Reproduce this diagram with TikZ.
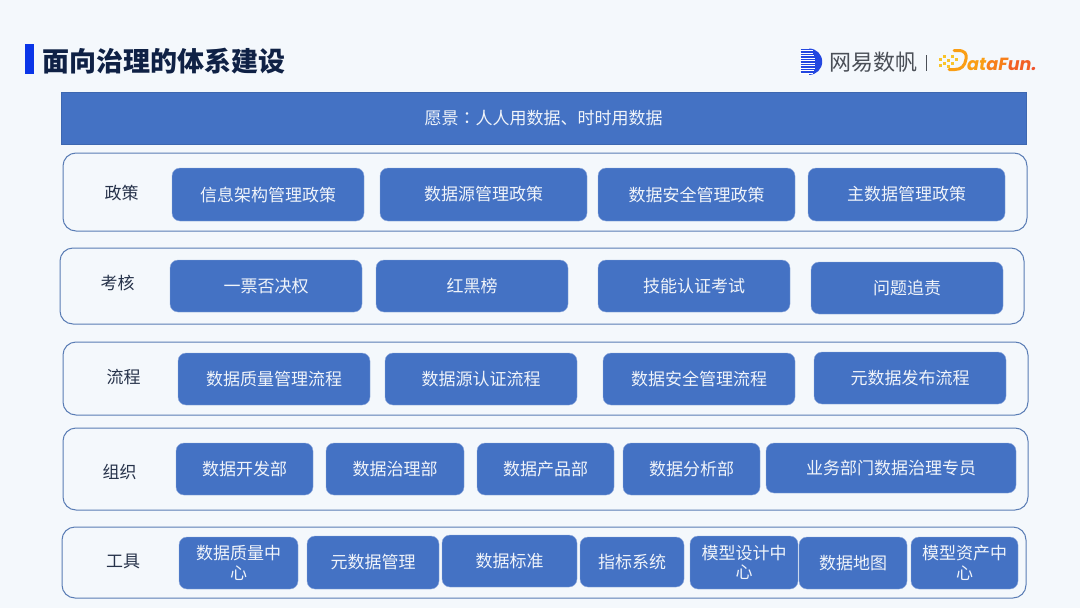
\documentclass[tikz,border=0pt]{standalone}
\usepackage{fontspec}
\setmainfont{Noto Sans CJK SC}
\newfontfamily\latfont{Poppins}
\newfontfamily\tcfont{Noto Sans CJK TC}
\usetikzlibrary{calc}
\definecolor{pagebg}{HTML}{F4F8FC}
\definecolor{boxblue}{HTML}{4472C4}
\definecolor{edgeblue}{HTML}{5A7DB5}
\definecolor{titleink}{HTML}{0F2145}
\definecolor{labelink}{HTML}{26324A}
\definecolor{barblue}{HTML}{0A35E8}
\definecolor{logoblue}{HTML}{2347E0}
\definecolor{logogrey}{HTML}{4A4F57}
\definecolor{dfyellow}{HTML}{F9C42A}
\definecolor{dforange}{HTML}{FA9E14}
\definecolor{dfdeep}{HTML}{F77F1A}
\definecolor{dfred}{HTML}{F0522A}
\tikzset{
  x=1pt,y=-1pt,
  itembox/.style={fill=boxblue,draw=boxblue!60!white,line width=.4pt,rounded corners=8pt,text=white!92!boxblue,font=\fontsize{17}{19.5}\selectfont,align=center,inner sep=0pt},
  rowbox/.style={draw=edgeblue,line width=1pt,fill=pagebg,rounded corners=13pt},
  rowlabel/.style={text=labelink,font=\fontsize{17}{20}\selectfont,inner sep=0pt},
  visionbar/.style={fill=boxblue,draw=boxblue!90!black,line width=.3pt,text=white!92!boxblue,font=\fontsize{17}{20}\selectfont,inner sep=0pt},
}
\newcommand{\rectnode}[7][]{% style,name,x1,y1,x2,y2,text
  \node[#2,minimum width={(#5)*1pt-(#3)*1pt},minimum height={(#6)*1pt-(#4)*1pt},#1] (#7) at ({((#3)+(#5))/2},{((#4)+(#6))/2}) {\itemtext};}
\newcommand{\itembx}[6]{\def\itemtext{#6}\rectnode{itembox}{#2}{#3}{#4}{#5}{#1}}
\newcommand{\rowbx}[5]{\def\itemtext{}\rectnode{rowbox}{#2}{#3}{#4}{#5}{#1}}
\begin{document}
\begin{tikzpicture}
\fill[pagebg] (0,0) rectangle (1080,608);
\useasboundingbox (0,0) rectangle (1080,608);
% title
\fill[barblue] (25,44) rectangle (34,74);
\node[anchor=west,inner sep=0pt,text=titleink,font=\fontsize{27}{30}\selectfont\bfseries] (title) at (42,61) {面向治理的体系建设};
% logo 1
\fill[logoblue] (809,48.5) arc (-90:90:13.2) -- cycle;
\foreach \yy/\ww in {49.5/13,52/13,54.5/14,57/15,59.5/15,62/15,64.5/15,67/15,69.5/14,72/13}
  {\draw[white,line width=.9pt] (800,\yy+1.25) -- ++(\ww,0);
   \draw[logoblue,line width=1.4pt] (800.5,\yy) -- ++(\ww-2.5,0);}
\node[anchor=west,inner sep=0pt,text=logogrey,font=\fontsize{22}{24}\selectfont] (wy) at (829,62) {网易数帆};
\draw[logogrey,line width=1pt] (926,55) -- (926,71);
% logo 2
\foreach \xx/\yy in {939/58,943/55,947/59,943/62,947/65,951/62,951/55,955/58,939/64}
  \fill[dfyellow] (\xx,\yy) rectangle ++(2.6,2.6);
\draw[dforange,line width=3pt,line cap=round] (954,50.5) -- (958,50.5) .. controls (965,50.5) and (967,54) .. (966,59) .. controls (965,66) and (961,69.5) .. (955,69.5) -- (949,69.5);
\node[anchor=base west,inner sep=0pt,font=\fontsize{17.6}{20}\selectfont\latfont\bfseries\itshape] (df) at (967,70) {\textcolor{dforange}{at}\textcolor{dfdeep}{aF}\textcolor{dfred!70!dfdeep}{un}\textcolor{dfred}{.}};
% vision
\def\itemtext{愿景{\tcfont ：}人人用数据、时时用数据}
\rectnode{visionbar}{61}{92}{1026}{144}{vision}
% rows
\rowbx{r1}{63}{153}{1027}{231}
\rowbx{r2}{60}{248}{1024}{324}
\rowbx{r3}{63}{342}{1028}{415}
\rowbx{r4}{63}{428}{1028}{510}
\rowbx{r5}{62}{527}{1026}{598}
\node[rowlabel] (l1) at (121.5,193) {政策};
\node[rowlabel] (l2) at (117.5,283) {考核};
\node[rowlabel] (l3) at (123.5,377) {流程};
\node[rowlabel] (l4) at (119.5,472) {组织};
\node[rowlabel] (l5) at (123,561.5) {工具};
% row 1
\itembx{a1}{172}{168}{364}{221}{信息架构管理政策}
\itembx{a2}{380}{168}{587}{221}{数据源管理政策}
\itembx{a3}{598}{168}{795}{221}{数据安全管理政策}
\itembx{a4}{808}{168}{1005}{221}{主数据管理政策}
% row 2
\itembx{b1}{170}{260}{362}{312}{一票否决权}
\itembx{b2}{376}{260}{568}{312}{红黑榜}
\itembx{b3}{598}{260}{790}{312}{技能认证考试}
\itembx{b4}{811}{262}{1003}{314}{问题追责}
% row 3
\itembx{c1}{178}{353}{370}{405}{数据质量管理流程}
\itembx{c2}{385}{353}{577}{405}{数据源认证流程}
\itembx{c3}{603}{353}{795}{405}{数据安全管理流程}
\itembx{c4}{814}{352}{1006}{404}{元数据发布流程}
% row 4
\itembx{d1}{176}{443}{313}{495}{数据开发部}
\itembx{d2}{326}{443}{464}{495}{数据治理部}
\itembx{d3}{477}{443}{614}{495}{数据产品部}
\itembx{d4}{623}{443}{760}{495}{数据分析部}
\itembx{d5}{766}{443}{1016}{493}{业务部门数据治理专员}
% row 5
\itembx{e1}{179}{537}{298}{589}{数据质量中\\心}
\itembx{e2}{307}{536}{439}{589}{元数据管理}
\itembx{e3}{442}{535}{577}{587}{数据标准}
\itembx{e4}{580}{537}{684}{587}{指标系统}
\itembx{e5}{690}{536}{798}{589}{模型设计中\\心}
\itembx{e6}{799}{537}{907}{589}{数据地图}
\itembx{e7}{911}{537}{1018}{589}{模型资产中\\心}
\end{tikzpicture}
\end{document}
